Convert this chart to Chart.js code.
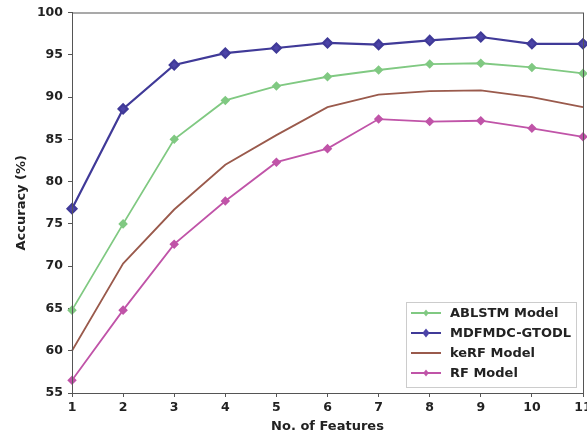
<!DOCTYPE html>
<html>
<head>
<meta charset="utf-8">
<script src="https://cdn.jsdelivr.net/npm/chart.js@4"></script>
<style>
  html, body { margin: 0; padding: 0; background: #fff; overflow: hidden; }
  #wrap { width: 600px; height: 436px; }
</style>
</head>
<body>
<div id="wrap"><canvas id="chart"></canvas></div>
<script>
var features = ['1', '2', '3', '4', '5', '6', '7', '8', '9', '10', '11'];
var ablstm = [64.8, 75.0, 85.0, 89.6, 91.3, 92.4, 93.2, 93.9, 94.0, 93.5, 92.8];
var mdfmdc = [76.8, 88.6, 93.8, 95.2, 95.8, 96.4, 96.2, 96.7, 97.1, 96.3, 96.3];
var kerf = [60.0, 70.3, 76.7, 82.0, 85.5, 88.8, 90.3, 90.7, 90.8, 90.0, 88.8];
var rf = [56.5, 64.8, 72.6, 77.7, 82.3, 83.9, 87.4, 87.1, 87.2, 86.3, 85.3];
var yTicks = [55, 60, 65, 70, 75, 80, 85, 90, 95, 100];

var tickFont = { family: 'DejaVu Sans', weight: 'bold', size: 12.5 };
var titleFont = { family: 'DejaVu Sans', weight: 'bold', size: 13 };

// frame round the plot + legend box inside, bottom right
var boxPlugin = {
    id: 'boxPlugin',
    afterDraw: function (chart) {
        var ctx = chart.ctx;
        var a = chart.chartArea;
        ctx.save();
        ctx.strokeStyle = '#555';
        ctx.lineWidth = 1;
        ctx.strokeRect(a.left + 0.5, a.top + 0.5, a.right - a.left, a.bottom - a.top);

        var x0 = 406, y0 = 302, w = 170, h = 85;
        ctx.fillStyle = 'rgba(255,255,255,0.9)';
        ctx.fillRect(x0, y0, w, h);
        ctx.strokeStyle = '#ccc';
        ctx.strokeRect(x0 + 0.5, y0 + 0.5, w, h);

        ctx.font = 'bold 13px "DejaVu Sans"';
        ctx.textBaseline = 'middle';
        chart.data.datasets.forEach(function (ds, i) {
            var y = y0 + 11 + i * 20;
            ctx.strokeStyle = ds.borderColor;
            ctx.lineWidth = 2;
            ctx.beginPath();
            ctx.moveTo(x0 + 5, y);
            ctx.lineTo(x0 + 35, y);
            ctx.stroke();
            if (ds.pointRadius > 0) {
                ctx.fillStyle = ds.pointBackgroundColor;
                var r = ds.pointRadius;
                ctx.beginPath();
                ctx.moveTo(x0 + 20, y - r);
                ctx.lineTo(x0 + 20 + r * 0.8, y);
                ctx.lineTo(x0 + 20, y + r);
                ctx.lineTo(x0 + 20 - r * 0.8, y);
                ctx.closePath();
                ctx.fill();
            }
            ctx.fillStyle = '#222';
            ctx.fillText(ds.label, x0 + 44, y + 1);
        });
        ctx.restore();
    }
};

new Chart(
    document.getElementById('chart'),
    {
        type: 'line',
        data: {
            labels: features,
            datasets: [{
                label: 'ABLSTM Model',
                data: ablstm,
                borderColor: '#80c982',
                backgroundColor: '#80c982',
                pointBackgroundColor: '#80c982',
                pointBorderColor: '#80c982',
                borderWidth: 1.8,
                pointStyle: 'rectRot',
                pointRadius: 3.5,
                lineTension: 0
            },
            {
                label: 'MDFMDC-GTODL',
                data: mdfmdc,
                borderColor: '#403a98',
                backgroundColor: '#4c44a8',
                pointBackgroundColor: '#4c44a8',
                pointBorderColor: '#403a98',
                borderWidth: 2.2,
                pointStyle: 'rectRot',
                pointRadius: 4.5,
                lineTension: 0
            },
            {
                label: 'keRF Model',
                data: kerf,
                borderColor: '#9a5a4c',
                backgroundColor: '#9a5a4c',
                pointBackgroundColor: '#9a5a4c',
                borderWidth: 1.8,
                pointRadius: 0,
                lineTension: 0
            },
            {
                label: 'RF Model',
                data: rf,
                borderColor: '#c054a8',
                backgroundColor: '#c054a8',
                pointBackgroundColor: '#c054a8',
                pointBorderColor: '#c054a8',
                borderWidth: 1.8,
                pointStyle: 'rectRot',
                pointRadius: 3.5,
                lineTension: 0
            }]
        },
        options: {
            animation: false,
            responsive: true,
            maintainAspectRatio: false,
            layout: { padding: { left: 6, right: 17, top: 12, bottom: 0 } },
            plugins: {
                legend: { display: false },
                tooltip: { enabled: false }
            },
            scales: {
                x: {
                    offset: false,
                    grid: { drawOnChartArea: false, tickLength: 4, color: '#555' },
                    border: { color: '#555' },
                    ticks: { color: '#222', font: tickFont, padding: 3, maxRotation: 0 },
                    title: { display: true, text: 'No. of Features', color: '#222', font: titleFont, padding: { top: 0, bottom: 2 } },
                    afterFit: function (scale) { scale.height = 43; }
                },
                y: {
                    min: 55,
                    max: 100,
                    afterBuildTicks: function (scale) {
                        scale.ticks = yTicks.map(function (v) { return { value: v }; });
                    },
                    grid: { drawOnChartArea: false, tickLength: 4, color: '#555' },
                    border: { color: '#555' },
                    ticks: { color: '#222', font: tickFont, padding: 5 },
                    title: { display: true, text: 'Accuracy (%)', color: '#222', font: titleFont, padding: 8 },
                    afterFit: function (scale) { scale.width = 66; }
                }
            }
        },
        plugins: [boxPlugin]
    }
);
</script>
</body>
</html>
